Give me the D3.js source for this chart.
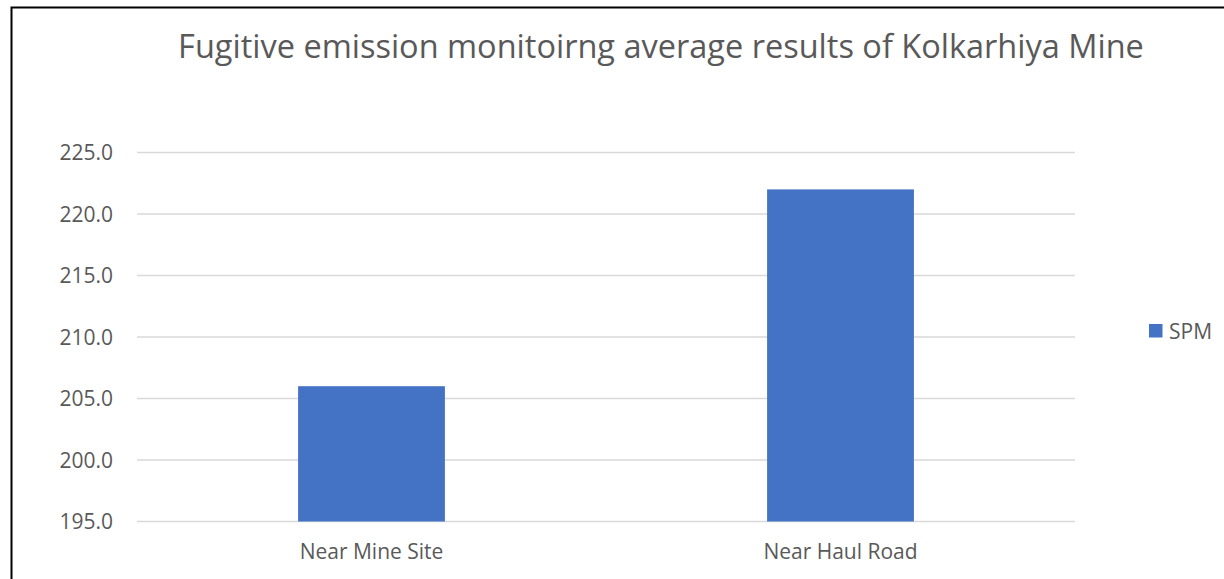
<!DOCTYPE html>
<html>
<head>
<meta charset="utf-8">
<script src="https://cdn.jsdelivr.net/npm/d3@7"></script>
<style>
  body { margin: 0; background: #fff; }
  text { font-family: "Open Sans", sans-serif; fill: #595959; }
</style>
</head>
<body>
<div id="chart"></div>
<script>
// chart data
const categories = ["Near Mine Site", "Near Haul Road"];
const spmValues = [206.0, 222.0];
const seriesName = "SPM";
const yTicks = [195, 200, 205, 210, 215, 220, 225];
const title = "Fugitive emission monitoirng average results of Kolkarhiya Mine";

var width = 1224, height = 579;
var margin = {left: 137, right: 149, top: 152.5, bottom: 57.5};
var labelSize = 21;

var svg = d3.select("#chart").append("svg")
    .attr("width", width)
    .attr("height", height);

// outer frame of the chart area
svg.append("rect")
    .attr("x", 11.5).attr("y", 7.5)
    .attr("width", width + 20).attr("height", height + 20)
    .attr("fill", "none")
    .attr("stroke", "#000")
    .attr("stroke-width", 2);

var x = d3.scaleBand()
    .domain(categories)
    .range([margin.left, width - margin.right])
    .paddingInner(0.687)
    .paddingOuter(0.687 / 2);

var y = d3.scaleLinear()
    .domain([195, 225])
    .range([height - margin.bottom, margin.top]);

// gridlines
svg.append("g")
    .attr("class", "grid")
  .selectAll("line")
  .data(yTicks)
  .enter().append("line")
    .attr("x1", margin.left)
    .attr("x2", width - margin.right)
    .attr("y1", function(d) { return y(d); })
    .attr("y2", function(d) { return y(d); })
    .attr("stroke", "#d9d9d9")
    .attr("stroke-width", 1.3);

// y axis labels
var yAxis = svg.append("g")
    .attr("transform", "translate(" + margin.left + ",0)")
    .call(d3.axisLeft(y).tickValues(yTicks).tickFormat(d3.format(".1f")).tickSize(0).tickPadding(24));
yAxis.select(".domain").remove();
yAxis.selectAll("text")
    .attr("font-size", labelSize)
    .attr("font-family", "'Open Sans', sans-serif")
    .attr("fill", "#595959")
    .attr("dy", "0.35em");

// bars
svg.append("g")
  .selectAll("rect")
  .data(spmValues)
  .enter().append("rect")
    .attr("x", function(d, i) { return x(categories[i]); })
    .attr("width", x.bandwidth())
    .attr("y", function(d) { return y(d); })
    .attr("height", function(d) { return y(195) - y(d); })
    .attr("fill", "#4472C4");

// x axis labels
var xAxis = svg.append("g")
    .attr("transform", "translate(0," + (height - margin.bottom) + ")")
    .call(d3.axisBottom(x).tickSize(0).tickPadding(23));
xAxis.select(".domain").remove();
xAxis.selectAll("text")
    .attr("font-size", labelSize)
    .attr("font-family", "'Open Sans', sans-serif")
    .attr("fill", "#595959");

// title
svg.append("text")
    .attr("x", 661)
    .attr("y", 58)
    .attr("text-anchor", "middle")
    .attr("font-size", 32.5)
    .text(title);

// legend
var legend = svg.append("g").attr("transform", "translate(1149,324)");
legend.append("rect")
    .attr("width", 13.5).attr("height", 13.5)
    .attr("fill", "#4472C4");
legend.append("text")
    .attr("x", 20).attr("y", 14.5)
    .attr("font-size", labelSize)
    .text(seriesName);
</script>
</body>
</html>
